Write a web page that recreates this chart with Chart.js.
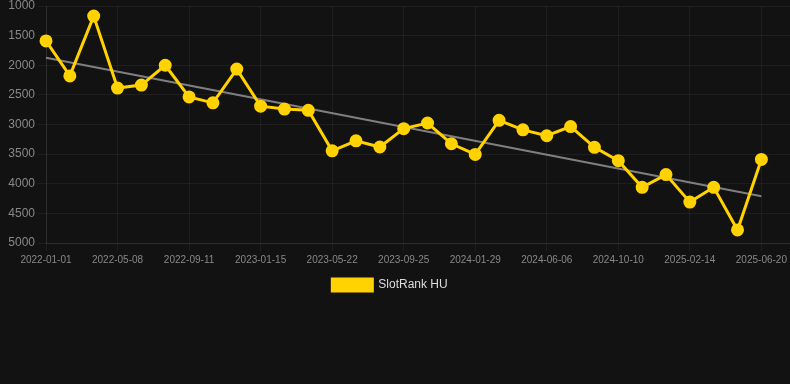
<!DOCTYPE html>
<html>
<head>
<meta charset="utf-8">
<script src="https://cdn.jsdelivr.net/npm/chart.js@4/dist/chart.umd.min.js"></script>
<style>
  html, body { margin: 0; padding: 0; background: #121212; }
  #wrap { position: relative; width: 790px; height: 301px; }
</style>
</head>
<body>
<div id="wrap"><canvas id="c"></canvas></div>
<script>
const dates = [
  "2022-01-01","2022-02-12","2022-03-26","2022-05-08","2022-06-19","2022-07-31",
  "2022-09-11","2022-10-23","2022-12-04","2023-01-15","2023-02-26","2023-04-09",
  "2023-05-22","2023-07-03","2023-08-14","2023-09-25","2023-11-06","2023-12-18",
  "2024-01-29","2024-03-12","2024-04-24","2024-06-06","2024-07-18","2024-08-29",
  "2024-10-10","2024-11-21","2025-01-02","2025-02-14","2025-03-28","2025-05-09",
  "2025-06-20"
];
const rankValues = [
  1590, 2180, 1170, 2385, 2335, 2000, 2535, 2635, 2065, 2690, 2740,
  2760, 3445, 3275, 3380, 3070, 2975, 3325, 3505, 2930, 3090, 3190,
  3035, 3385, 3610, 4060, 3845, 4310, 4060, 4780, 3590
];
const trendStart = 1875;
const trendEnd = 4212;
const yTicks = [1000, 1500, 2000, 2500, 3000, 3500, 4000, 4500, 5000];
const xTickIndices = [0, 3, 6, 9, 12, 15, 18, 21, 24, 27, 30];
const seriesName = "SlotRank HU";

const rankPoints = rankValues.map((v, i) => ({ x: i, y: v }));
const trendPoints = [{ x: 0, y: trendStart }, { x: dates.length - 1, y: trendEnd }];

const legendShift = {
  id: 'legendShift',
  afterLayout(chart) {
    if (chart.legend) { chart.legend.left -= 10; }
  }
};

new Chart(document.getElementById('c'), {
  type: 'line',
  plugins: [legendShift],
  data: {
    datasets: [
      {
        label: seriesName,
        data: rankPoints,
        borderColor: '#FFD200',
        backgroundColor: '#FFD200',
        borderWidth: 3,
        pointRadius: 5,
        pointBackgroundColor: '#FFD200',
        pointBorderColor: '#FFD200',
        tension: 0,
        clip: false,
        order: 1
      },
      {
        label: 'trend',
        data: trendPoints,
        borderColor: 'rgba(140,140,140,0.9)',
        borderWidth: 2,
        pointRadius: 0,
        tension: 0,
        clip: false,
        order: 2
      }
    ]
  },
  options: {
    responsive: true,
    maintainAspectRatio: false,
    animation: false,
    layout: { padding: 0, autoPadding: false },
    plugins: {
      legend: {
        position: 'bottom',
        labels: {
          color: '#dddddd',
          font: { family: 'Liberation Sans, Arial, sans-serif', size: 12 },
          boxWidth: 40,
          boxHeight: 12,
          filter: (item) => item.text === seriesName
        }
      },
      tooltip: { enabled: false }
    },
    scales: {
      x: {
        type: 'linear',
        min: 0,
        max: 31.2,
        grid: { color: 'rgba(255,255,255,0.05)', tickLength: 8 },
        border: { color: 'rgba(255,255,255,0.08)' },
        afterBuildTicks: (scale) => {
          scale.ticks = xTickIndices.map(v => ({ value: v }));
        },
        afterFit: (scale) => {
          scale.paddingLeft = 0;
          scale.paddingRight = 0;
        },
        ticks: {
          autoSkip: false,
          maxRotation: 0,
          color: '#888888',
          font: { family: 'Liberation Sans, Arial, sans-serif', size: 10 },
          callback: (v) => dates[v] ?? ''
        }
      },
      y: {
        reverse: true,
        min: 1000,
        max: 5000,
        grid: { color: 'rgba(255,255,255,0.05)', tickLength: 8 },
        border: { color: 'rgba(255,255,255,0.08)' },
        afterBuildTicks: (scale) => {
          scale.ticks = yTicks.map(v => ({ value: v }));
        },
        afterFit: (scale) => {
          scale.width = 46;
          scale.paddingTop = 6;
          scale.paddingBottom = 0;
        },
        ticks: {
          color: '#888888',
          font: { family: 'Liberation Sans, Arial, sans-serif', size: 12 },
          callback: (v) => String(v)
        }
      }
    }
  }
});
</script>
</body>
</html>
